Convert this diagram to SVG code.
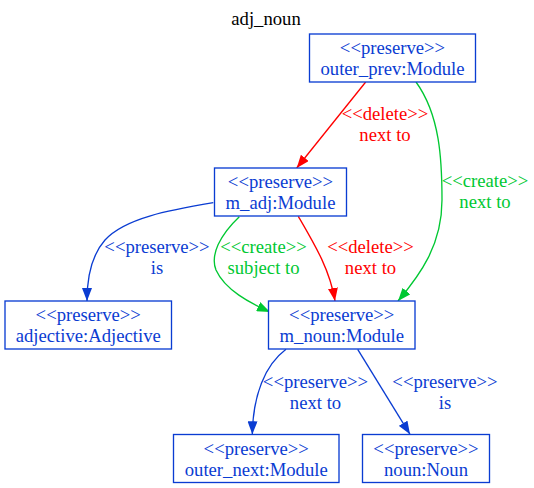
<svg xmlns="http://www.w3.org/2000/svg" width="534" height="488" viewBox="0 0 534 488">
<defs>
<style>
text{font-family:"Liberation Serif","Times New Roman",serif;font-size:18.67px;text-anchor:middle}
.n rect{fill:#fff;stroke:#0a3cd2;stroke-width:1.33}
.n text,.tb{fill:#0a3cd2}
.tr{fill:#ff0000}
.tg{fill:#00c832}
.e{fill:none;stroke-width:1.33}
.b{stroke:#0a3cd2}
.r{stroke:#ff0000}
.g{stroke:#00c832}
</style>
<marker id="ab" viewBox="0 0 13 10" refX="13" refY="5" markerWidth="13" markerHeight="10" markerUnits="userSpaceOnUse" orient="auto"><path d="M0,0L13,5L0,10z" fill="#0a3cd2"/></marker>
<marker id="ar" viewBox="0 0 13 10" refX="13" refY="5" markerWidth="13" markerHeight="10" markerUnits="userSpaceOnUse" orient="auto"><path d="M0,0L13,5L0,10z" fill="#ff0000"/></marker>
<marker id="ag" viewBox="0 0 13 10" refX="13" refY="5" markerWidth="13" markerHeight="10" markerUnits="userSpaceOnUse" orient="auto"><path d="M0,0L13,5L0,10z" fill="#00c832"/></marker>
</defs>
<rect width="534" height="488" fill="#fff"/>
<text x="266" y="24.5">adj_noun</text>
<g id="connectors">
<g id="e1"><path class="e r" d="M365.7,82 L296.7,168" marker-end="url(#ar)"/><text class="tr" x="385" y="119.8">&lt;&lt;delete&gt;&gt;<tspan x="385" dy="21">next to</tspan></text></g>
<g id="e2"><path class="e g" d="M416,82 C440,115 442,160 442,200 C442,245 420,275 398,301" marker-end="url(#ag)"/><text class="tg" x="485" y="187.3">&lt;&lt;create&gt;&gt;<tspan x="485" dy="21">next to</tspan></text></g>
<g id="e3"><path class="e b" d="M213.3,202.7 C170,210 125,218 105,240 C90,257 87,280 87,301" marker-end="url(#ab)"/><text class="tb" x="157" y="253">&lt;&lt;preserve&gt;&gt;<tspan x="157" dy="21">is</tspan></text></g>
<g id="e4"><path class="e g" d="M239.3,216.7 C220,235 210,255 216,270 C225,290 250,303 270,312" marker-end="url(#ag)"/><text class="tg" x="263.5" y="253.3">&lt;&lt;create&gt;&gt;<tspan x="263.5" dy="21">subject to</tspan></text></g>
<g id="e5"><path class="e r" d="M298.3,216.3 C315,245 330,270 335,301" marker-end="url(#ar)"/><text class="tr" x="370.5" y="253.3">&lt;&lt;delete&gt;&gt;<tspan x="370.5" dy="21">next to</tspan></text></g>
<g id="e6"><path class="e b" d="M286,349.3 C265,365 253,395 252.3,434.3" marker-end="url(#ab)"/><text class="tb" x="315.5" y="387.8">&lt;&lt;preserve&gt;&gt;<tspan x="315.5" dy="21">next to</tspan></text></g>
<g id="e7"><path class="e b" d="M357.7,349.3 L410,434.3" marker-end="url(#ab)"/><text class="tb" x="445" y="387.8">&lt;&lt;preserve&gt;&gt;<tspan x="445" dy="21">is</tspan></text></g>
</g>
<g id="outer_prev" class="n"><rect x="309.5" y="34" width="166" height="48"/><text x="392.5" y="54">&lt;&lt;preserve&gt;&gt;<tspan x="392.5" dy="21">outer_prev:Module</tspan></text></g>
<g id="m_adj" class="n"><rect x="214.5" y="168" width="132" height="48"/><text x="280.5" y="188">&lt;&lt;preserve&gt;&gt;<tspan x="280.5" dy="21">m_adj:Module</tspan></text></g>
<g id="adjective" class="n"><rect x="5" y="301" width="166.5" height="48"/><text x="88.25" y="321">&lt;&lt;preserve&gt;&gt;<tspan x="88.25" dy="21">adjective:Adjective</tspan></text></g>
<g id="m_noun" class="n"><rect x="268.5" y="301" width="146.5" height="48"/><text x="341.75" y="321">&lt;&lt;preserve&gt;&gt;<tspan x="341.75" dy="21">m_noun:Module</tspan></text></g>
<g id="outer_next" class="n"><rect x="173.5" y="434.5" width="165.5" height="48"/><text x="256.25" y="454.5">&lt;&lt;preserve&gt;&gt;<tspan x="256.25" dy="21">outer_next:Module</tspan></text></g>
<g id="noun" class="n"><rect x="362.5" y="434.5" width="127" height="48"/><text x="426" y="454.5">&lt;&lt;preserve&gt;&gt;<tspan x="426" dy="21">noun:Noun</tspan></text></g>
</svg>
